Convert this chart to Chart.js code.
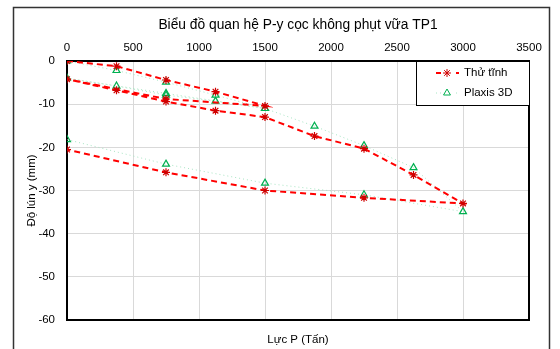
<!DOCTYPE html>
<html>
<head>
<meta charset="utf-8">
<script src="https://cdn.jsdelivr.net/npm/chart.js@4.4.0/dist/chart.umd.min.js"></script>
<style>
  html, body { margin: 0; padding: 0; background: #fff; }
  #wrap { width: 560px; height: 349px; }
</style>
</head>
<body>
<div id="wrap"><canvas id="myChart" width="560" height="349"></canvas></div>
<script>
'use strict';

// load steps (Tấn) and settlement (mm)
const loadP = [0, 375, 750, 1125, 1500, 750, 0, 375, 750, 1125, 1500, 1875, 2250, 2625, 3000, 2250, 1500, 750, 0];
const thuTinhY = [0, -1.2, -4.4, -7.1, -10.4, -8.8, -4.2, -6.8, -9.4, -11.5, -13.0, -17.4, -20.3, -26.4, -33.0, -31.7, -30.0, -25.8, -20.5];
const plaxisY = [0, -2.2, -4.9, -7.9, -11.0, -7.5, -4.0, -5.8, -7.9, -9.3, -11.0, -15.1, -19.6, -24.7, -34.9, -31.0, -28.3, -23.9, -18.2];

const seriesNames = ['Thử tĩnh', 'Plaxis 3D'];
const chartTitle = 'Biểu đồ quan hệ P-y cọc không phụt vữa TP1';
const xTicks = [0, 500, 1000, 1500, 2000, 2500, 3000, 3500];
const yTicks = [0, -10, -20, -30, -40, -50, -60];

const toPoints = (ys) => loadP.map((p, i) => ({ x: p, y: ys[i] }));

const FONT = 'Arial, "Liberation Sans", sans-serif';
Chart.defaults.font.family = FONT;
Chart.defaults.color = '#000';

// white page, outer frame of the chart object, title centred over the plot
const chartFrame = {
  id: 'chartFrame',
  beforeDraw(chart) {
    const ctx = chart.ctx;
    ctx.save();
    ctx.fillStyle = '#fff';
    ctx.fillRect(0, 0, chart.width, chart.height);
    ctx.restore();
  },
  afterDraw(chart) {
    const { ctx, chartArea: a } = chart;
    ctx.save();
    ctx.strokeStyle = '#333';
    ctx.lineWidth = 1.5;
    ctx.strokeRect(13.5, 7.5, 536, 400);
    ctx.fillStyle = '#000';
    ctx.font = '13.8px ' + FONT;
    ctx.textAlign = 'center';
    ctx.textBaseline = 'middle';
    ctx.fillText(chartTitle, (a.left + a.right) / 2, 25);
    ctx.restore();
  },
};

// right + bottom edges of the plot area
const plotFrame = {
  id: 'plotFrame',
  beforeDatasetsDraw(chart) {
    const { ctx, chartArea: a } = chart;
    ctx.save();
    ctx.strokeStyle = '#000';
    ctx.lineWidth = 2;
    ctx.beginPath();
    ctx.moveTo(a.right, a.top);
    ctx.lineTo(a.right, a.bottom);
    ctx.lineTo(a.left, a.bottom);
    ctx.stroke();
    ctx.restore();
  },
};

// legend box sitting inside the plot, top right
const boxLegend = {
  id: 'boxLegend',
  afterDraw(chart) {
    const { ctx, chartArea: a } = chart;
    const x0 = 416, y0 = a.top, w = a.right - 416, h = 44;
    ctx.save();
    ctx.fillStyle = '#fff';
    ctx.fillRect(x0, y0, w, h);
    ctx.strokeStyle = '#000';
    ctx.lineWidth = 1;
    ctx.strokeRect(x0 + 0.5, y0 + 0.5, w, h);
    chart.data.datasets.forEach((ds, i) => {
      const cy = y0 + 12 + i * 20;
      ctx.save();
      ctx.strokeStyle = ds.borderColor;
      ctx.lineWidth = ds.borderWidth;
      ctx.setLineDash(ds.borderDash || []);
      ctx.beginPath();
      ctx.moveTo(436, cy);
      ctx.lineTo(459, cy);
      ctx.stroke();
      ctx.restore();
      ctx.fillStyle = '#fff';
      ctx.fillRect(441, cy - 5, 12, 10);
      ctx.strokeStyle = ds.pointBorderColor;
      ctx.fillStyle = ds.pointBackgroundColor;
      Chart.helpers.drawPoint(ctx, {
        pointStyle: ds.pointStyle,
        radius: ds.pointRadius,
        borderWidth: ds.pointBorderWidth,
      }, 447, cy);
      ctx.fillStyle = '#000';
      ctx.font = '11.5px ' + FONT;
      ctx.textBaseline = 'middle';
      ctx.fillText(ds.label, 464, cy);
    });
    ctx.restore();
  },
};

const ctx = document.getElementById('myChart');

new Chart(ctx, {
  type: 'scatter',
  data: {
    datasets: [
      {
        label: seriesNames[0],
        data: toPoints(thuTinhY),
        showLine: true,
        borderColor: '#ff0000',
        borderWidth: 2,
        borderDash: [6, 4],
        pointStyle: 'star',
        pointRadius: 4,
        pointBorderWidth: 1.2,
        pointBorderColor: '#d00000',
        pointBackgroundColor: '#d00000',
      },
      {
        label: seriesNames[1],
        data: toPoints(plaxisY),
        showLine: true,
        borderColor: '#a8e6c4',
        borderWidth: 1,
        borderDash: [1, 3],
        pointStyle: 'triangle',
        pointRadius: 4,
        pointBorderWidth: 1.2,
        pointBorderColor: '#00b050',
        pointBackgroundColor: 'rgba(255,255,255,0)',
      },
    ],
  },
  options: {
    responsive: false,
    animation: false,
    layout: { padding: { left: 20, right: 31, top: 41, bottom: 0 } },
    plugins: {
      legend: { display: false },
      tooltip: { enabled: false },
      title: { display: false },
    },
    scales: {
      x: {
        type: 'linear',
        position: 'top',
        min: 0,
        max: 3500,
        afterBuildTicks: (s) => { s.ticks = xTicks.map((v) => ({ value: v })); },
        afterFit: (s) => { s.height = 20; },
        ticks: { font: { size: 11.5 }, padding: 6, maxRotation: 0, callback: (v) => String(v) },
        grid: { color: '#d9d9d9', borderDash: [3, 3], drawTicks: false },
        border: { color: '#000', width: 2 },
      },
      xBottom: {
        type: 'linear',
        position: 'bottom',
        min: 0,
        max: 3500,
        afterFit: (s) => { s.height = 29; },
        ticks: { display: false },
        grid: { display: false },
        border: { display: false },
        title: {
          display: true,
          text: 'Lực P (Tấn)',
          font: { size: 11.5 },
          padding: { top: 0, bottom: 2 },
        },
      },
      y: {
        type: 'linear',
        min: -60,
        max: 0,
        afterBuildTicks: (s) => { s.ticks = yTicks.map((v) => ({ value: v })); },
        afterFit: (s) => { s.width = 47; },
        ticks: { font: { size: 11.5 }, padding: 12, callback: (v) => String(v) },
        grid: { color: '#d9d9d9', borderDash: [3, 3], drawTicks: false },
        border: { color: '#000', width: 2 },
        title: {
          display: true,
          text: 'Độ lún y (mm)',
          font: { size: 11.5 },
          padding: { top: 5, bottom: 0 },
        },
      },
    },
  },
  plugins: [chartFrame, plotFrame, boxLegend],
});
</script>
</body>
</html>
